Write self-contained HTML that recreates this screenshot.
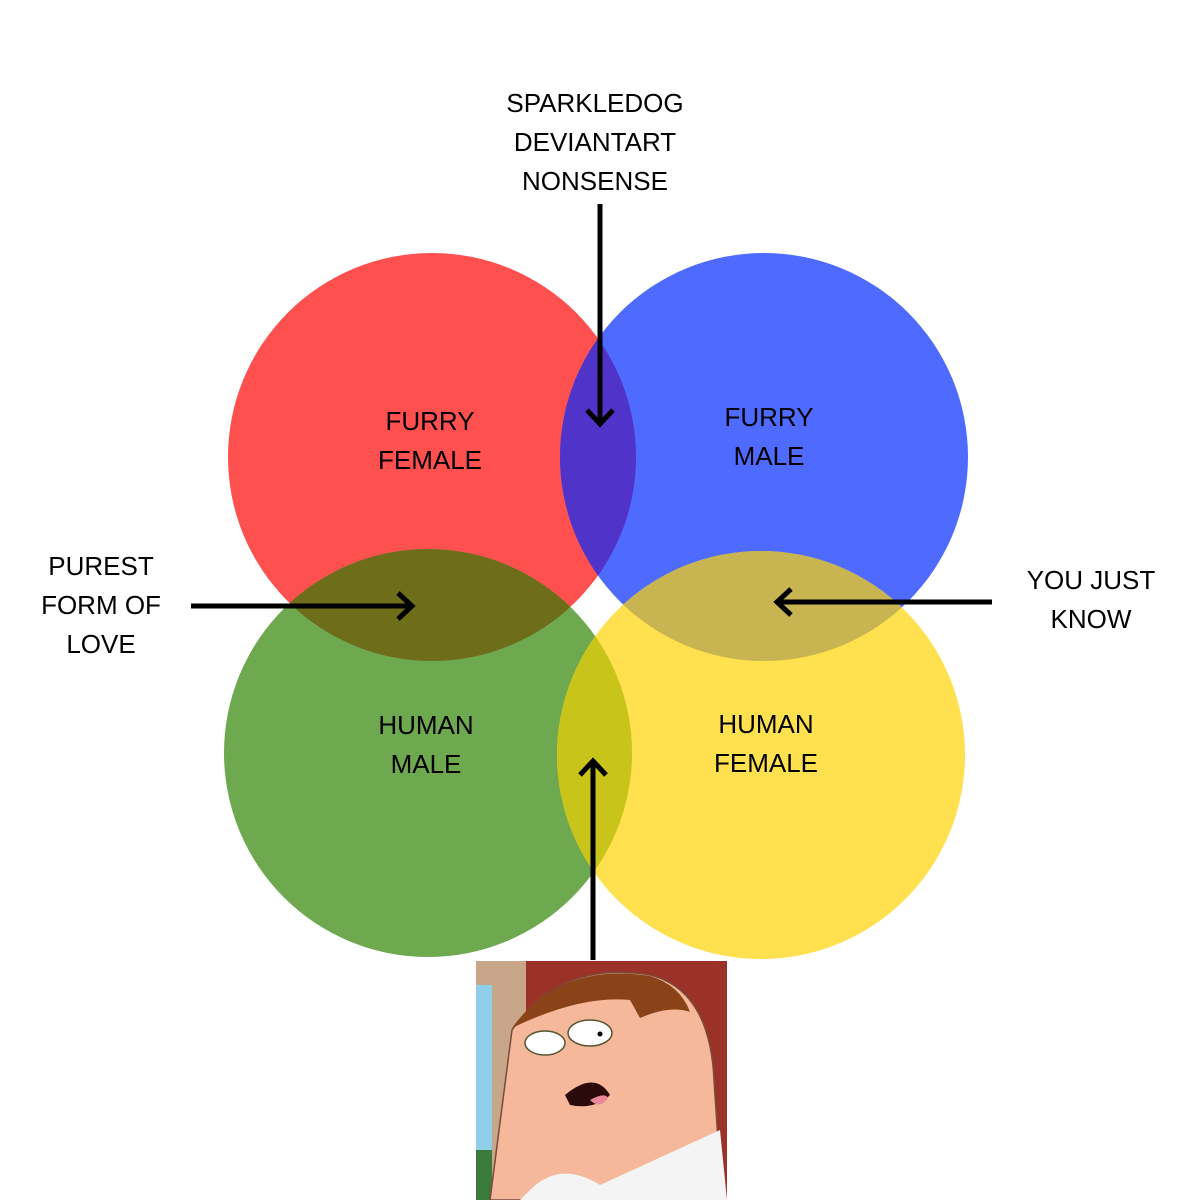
<!DOCTYPE html>
<html><head><style>
html,body{margin:0;padding:0;background:#fff;}
svg{display:block;}
text{font-family:"Liberation Sans",sans-serif;font-size:26px;fill:#000;text-anchor:middle;}
</style></head><body>
<svg width="1200" height="1200" viewBox="0 0 1200 1200">
<defs>
<clipPath id="cr"><circle cx="432" cy="457" r="204"/></clipPath>
<clipPath id="cy"><circle cx="761" cy="755" r="204"/></clipPath>
<clipPath id="img"><rect x="476" y="961" width="251" height="239"/></clipPath>
</defs>
<circle cx="432" cy="457" r="204" fill="#FF5050"/>
<circle cx="764" cy="457" r="204" fill="#4F6BFF"/>
<circle cx="428" cy="753" r="204" fill="#6EA84F"/>
<circle cx="761" cy="755" r="204" fill="#FFE04F"/>
<g clip-path="url(#cr)">
<circle cx="764" cy="457" r="204" fill="#5033C8"/>
<circle cx="428" cy="753" r="204" fill="#6E6E1A"/>
</g>
<g clip-path="url(#cy)">
<circle cx="764" cy="457" r="204" fill="#C8B450"/>
<circle cx="428" cy="753" r="204" fill="#C8C41A"/>
</g>
<text x="595" y="112">SPARKLEDOG</text>
<text x="595" y="151">DEVIANTART</text>
<text x="595" y="190">NONSENSE</text>
<text x="430" y="430">FURRY</text>
<text x="430" y="469">FEMALE</text>
<text x="769" y="426">FURRY</text>
<text x="769" y="465">MALE</text>
<text x="426" y="734">HUMAN</text>
<text x="426" y="773">MALE</text>
<text x="766" y="733">HUMAN</text>
<text x="766" y="772">FEMALE</text>
<text x="101" y="575">PUREST</text>
<text x="101" y="614">FORM OF</text>
<text x="101" y="653">LOVE</text>
<text x="1091" y="589">YOU JUST</text>
<text x="1091" y="628">KNOW</text>
<g stroke="#000" stroke-width="5" fill="none">
<line x1="600" y1="204" x2="600" y2="424"/><polyline points="587,410 600,424 613,410"/>
<line x1="191" y1="606" x2="412" y2="606"/><polyline points="398,593 412,606 398,619"/>
<line x1="992" y1="602" x2="777" y2="602"/><polyline points="791,589 777,602 791,615"/>
<line x1="593" y1="960" x2="593" y2="761"/><polyline points="580,775 593,761 606,775"/>
</g>
<g clip-path="url(#img)">
<rect x="476" y="961" width="251" height="239" fill="#9B3228"/>
<rect x="476" y="961" width="50" height="239" fill="#C8A68A"/>
<rect x="476" y="985" width="16" height="215" fill="#8FCFEA"/>
<rect x="476" y="1150" width="16" height="50" fill="#3A7A3A"/>
<path d="M512,1030 Q560,960 650,975 Q710,990 714,1080 L722,1200 L490,1200 Q500,1120 512,1030 Z" fill="#F5B89A" stroke="#7a4a3a" stroke-width="1.5"/>
<path d="M512,1028 Q560,962 650,976 Q680,985 690,1012 Q670,1005 640,1018 L630,1000 Q580,995 512,1028 Z" fill="#8A4218"/>
<path d="M530,1190 Q560,1160 600,1185 L720,1130 L727,1200 L520,1200 Z" fill="#F4F4F4"/>
<ellipse cx="545" cy="1043" rx="20" ry="12" fill="#fff" stroke="#553" stroke-width="1.5"/>
<ellipse cx="590" cy="1033" rx="22" ry="13" fill="#fff" stroke="#553" stroke-width="1.5"/>
<circle cx="600" cy="1034" r="2.5" fill="#000"/>
<path d="M565,1095 Q595,1070 610,1095 Q595,1110 570,1105 Z" fill="#2a0a0a"/>
<path d="M590,1100 Q605,1092 608,1098 Q600,1110 590,1100 Z" fill="#e8889a"/>
</g>
</svg>
</body></html>
